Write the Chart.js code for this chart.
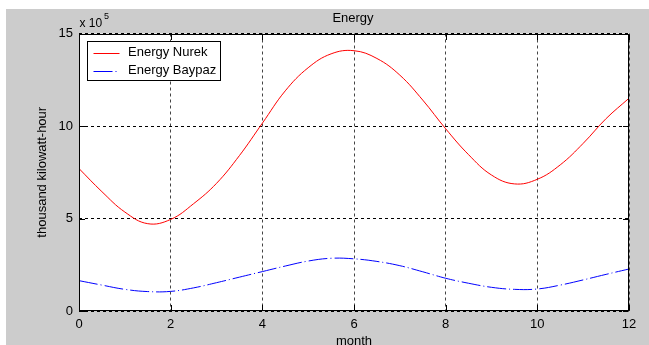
<!DOCTYPE html>
<html>
<head>
<meta charset="utf-8">
<script src="https://cdn.jsdelivr.net/npm/chart.js@4.4.1/dist/chart.umd.min.js"></script>
<style>
  html, body { margin: 0; padding: 0; background: #fff; overflow: hidden; }
  #wrap { position: absolute; left: 6px; top: 9px; width: 643px; height: 340px; }
</style>
</head>
<body>
<div id="wrap"><canvas id="chart" width="643" height="340"></canvas></div>
<script>
// values are in units of 10^5 thousand kWh
const months = [0, 0.5, 1, 1.5, 2, 2.5, 3, 3.5, 4, 4.5, 5, 5.5, 6, 6.5, 7, 7.5, 8, 8.5, 9, 9.5, 10, 10.5, 11, 11.5, 12];
const nurek = [7.7, 6.45, 5.35, 4.72, 4.95, 5.8, 6.9, 8.4, 10.15, 11.9, 13.15, 13.9, 14.07, 13.65, 12.75, 11.4, 9.85, 8.45, 7.35, 6.87, 7.12, 7.9, 9.06, 10.4, 11.5];
const baypaz = [1.64, 1.4, 1.17, 1.05, 1.06, 1.25, 1.53, 1.83, 2.13, 2.43, 2.7, 2.85, 2.82, 2.68, 2.45, 2.12, 1.77, 1.5, 1.28, 1.17, 1.19, 1.4, 1.68, 1.98, 2.27];
const seriesNames = ['Energy Nurek', 'Energy Baypaz'];
const xTicks = [0, 2, 4, 6, 8, 10, 12];
const yTicks = [0, 5, 10, 15];

const FONT = "'Liberation Sans', Arial, sans-serif";
const blueDash = [19, 3, 1, 3];

const toPoints = vals => vals.map((v, i) => ({ x: months[i], y: v }));

// matlab style figure: gray background, white axes, boxed frame, inward ticks, legend
const matlabFrame = {
  id: 'matlabFrame',
  beforeDraw(chart) {
    const { ctx, chartArea: a } = chart;
    ctx.save();
    ctx.fillStyle = '#cccccc';
    ctx.fillRect(0, 0, chart.width, chart.height);
    ctx.fillStyle = '#ffffff';
    ctx.fillRect(a.left, a.top, a.right - a.left, a.bottom - a.top);
    ctx.restore();
  },
  afterDraw(chart) {
    const { ctx, chartArea: a, scales: { x, y } } = chart;
    ctx.save();
    ctx.strokeStyle = '#000';
    ctx.lineWidth = 1;
    ctx.setLineDash([]);
    const L = Math.round(a.left) + 0.5, R = Math.round(a.right) - 0.5;
    const T = Math.round(a.top) + 0.5, B = Math.round(a.bottom) - 0.5;
    ctx.strokeRect(L, T, R - L, B - T);

    // inward tick marks
    const tl = 5.5;
    ctx.beginPath();
    xTicks.forEach(v => {
      const px = Math.round(x.getPixelForValue(v)) + 0.5;
      ctx.moveTo(px, B); ctx.lineTo(px, B - tl);
      ctx.moveTo(px, T); ctx.lineTo(px, T + tl);
    });
    yTicks.forEach(v => {
      const py = Math.round(y.getPixelForValue(v)) + 0.5;
      ctx.moveTo(L, py); ctx.lineTo(L + tl, py);
      ctx.moveTo(R, py); ctx.lineTo(R - tl, py);
    });
    ctx.stroke();

    // title
    ctx.fillStyle = '#000';
    ctx.font = '13px ' + FONT;
    ctx.textAlign = 'center';
    ctx.textBaseline = 'alphabetic';
    ctx.fillText('Energy', (a.left + a.right) / 2 - 1, 13);

    // exponent label
    ctx.textAlign = 'left';
    ctx.font = '12px ' + FONT;
    ctx.fillText('x 10', a.left + 0.5, 17.7);
    ctx.font = '9px ' + FONT;
    ctx.fillText('5', a.left + 25, 9.5);

    // legend
    const bx = Math.round(a.left + 8) + 0.5, by = Math.round(a.top + 7.5) + 0.5;
    ctx.fillStyle = '#fff';
    ctx.fillRect(bx, by, 133, 39);
    ctx.strokeStyle = '#000';
    ctx.strokeRect(bx, by, 133, 39);
    chart.data.datasets.forEach((ds, i) => {
      const ry = by + 11 + i * 18;
      ctx.strokeStyle = ds.borderColor;
      ctx.setLineDash(ds.borderDash || []);
      ctx.beginPath();
      ctx.moveTo(bx + 6, Math.round(ry) + 0.5);
      ctx.lineTo(bx + 32, Math.round(ry) + 0.5);
      ctx.stroke();
      ctx.setLineDash([]);
      ctx.fillStyle = '#000';
      ctx.font = '13px ' + FONT;
      ctx.textBaseline = 'middle';
      ctx.fillText(ds.label, bx + 40.5, ry);
    });
    ctx.restore();
  }
};

new Chart(document.getElementById('chart'), {
  type: 'line',
  data: {
    datasets: [
      {
        label: seriesNames[0],
        data: toPoints(nurek),
        borderColor: '#ff0000',
        borderWidth: 1,
        pointRadius: 0,
        tension: 0.4,
        fill: false
      },
      {
        label: seriesNames[1],
        data: toPoints(baypaz),
        borderColor: '#0000ff',
        borderWidth: 1,
        borderDash: blueDash,
        pointRadius: 0,
        tension: 0.4,
        fill: false
      }
    ]
  },
  options: {
    responsive: false,
    animation: false,
    layout: { padding: { top: 24.5, right: 20, left: 0, bottom: 0 } },
    plugins: {
      legend: { display: false },
      title: { display: false },
      tooltip: { enabled: false }
    },
    scales: {
      x: {
        type: 'linear',
        min: 0,
        max: 12,
        afterFit: s => { s.height = 38; },
        afterBuildTicks: s => { s.ticks = xTicks.map(v => ({ value: v })); },
        grid: { color: '#444', drawTicks: false },
        border: { display: false, dash: [3, 3] },
        ticks: { color: '#000', padding: 6, font: { family: FONT, size: 13 } },
        title: {
          display: true,
          text: 'month',
          color: '#000',
          padding: { top: 0, bottom: 0 },
          font: { family: FONT, size: 13 }
        }
      },
      y: {
        min: 0,
        max: 15,
        afterFit: s => { s.width = 73; },
        afterBuildTicks: s => { s.ticks = yTicks.map(v => ({ value: v })); },
        grid: { color: '#000', drawTicks: false },
        border: { display: false, dash: [3, 3] },
        ticks: { color: '#000', padding: 6, font: { family: FONT, size: 13 } },
        title: {
          display: true,
          text: 'thousand kilowatt-hour',
          color: '#000',
          padding: { top: 29, bottom: 0 },
          font: { family: FONT, size: 13 }
        }
      }
    }
  },
  plugins: [matlabFrame]
});
</script>
</body>
</html>
